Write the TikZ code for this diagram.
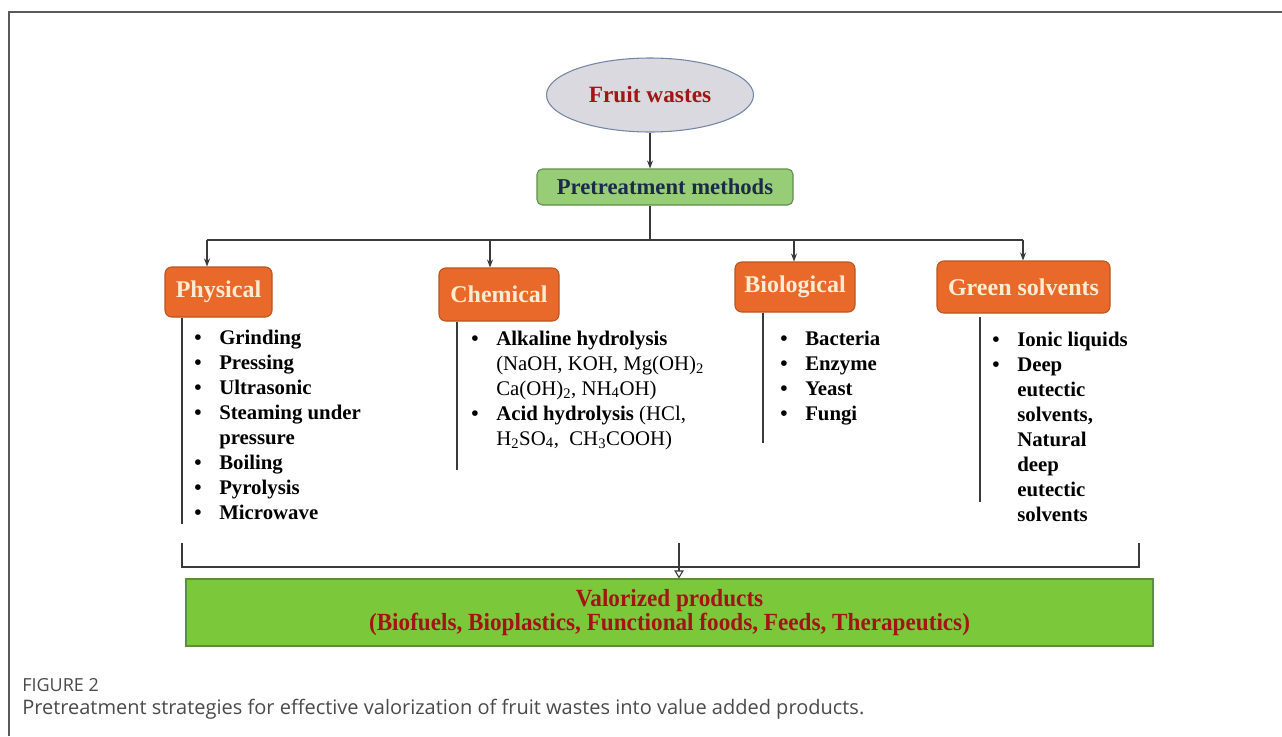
\documentclass[tikz,border=0pt]{standalone}
\usepackage{fontspec}
\setmainfont{Liberation Serif}
\newfontfamily\capfont{Open Sans}
\usetikzlibrary{arrows.meta,shapes.geometric}
\definecolor{lineC}{HTML}{3A3A3A}
\definecolor{frameC}{HTML}{5A5A5A}
\definecolor{ellFill}{HTML}{D9D9DF}
\definecolor{ellLine}{HTML}{7486A6}
\definecolor{darkred}{HTML}{A31414}
\definecolor{ptFill}{HTML}{98CD78}
\definecolor{ptLine}{HTML}{5F8F4B}
\definecolor{navy}{HTML}{1B2A48}
\definecolor{orFill}{HTML}{E8692A}
\definecolor{orLine}{HTML}{B8561E}
\definecolor{cream}{HTML}{FCEBD3}
\definecolor{vpFill}{HTML}{7BC93A}
\definecolor{vpLine}{HTML}{5C8E3E}
\definecolor{capC}{HTML}{4A4A4A}
\newcommand{\bul}{\makebox[18.75pt][l]{\textbullet}}
\newcommand{\cond}[1]{\scalebox{0.94}[1]{#1}}
\begin{document}
\begin{tikzpicture}[x=0.75pt,y=-0.75pt,
  conn/.style={draw=lineC,line width=0.8pt},
  arr/.style={conn,-{Stealth[length=6pt,width=4.5pt]}},
  catbox/.style={draw=orLine,fill=orFill,rounded corners=5pt,line width=0.8pt,
    text=cream,font=\bfseries\fontsize{18}{20}\selectfont,inner sep=0pt},
  listtxt/.style={inner sep=0pt,anchor=base west,font=\bfseries\fontsize{15.6}{18.75}\selectfont,text=black},
]
\useasboundingbox (0,0) rectangle (1282,736);
% frame
\draw[frameC,line width=1.5pt] (9,736) -- (9,12) -- (1282,12);

% top
\node[ellipse,draw=ellLine,fill=ellFill,line width=0.8pt,minimum width=155.25pt,minimum height=55.5pt,inner sep=0pt,
  text=darkred,font=\bfseries\fontsize{17.5}{20}\selectfont] (fw) at (650,95) {Fruit wastes};
\node[draw=ptLine,fill=ptFill,rounded corners=4pt,line width=0.8pt,minimum width=192pt,minimum height=27pt,inner sep=0pt,
  text=navy,font=\bfseries\fontsize{17}{20}\selectfont] (pm) at (665,187) {Pretreatment methods};
\draw[arr] (fw.south -| 650,0) -- (650,0 |- pm.north);

% categories
\node[catbox,minimum width=80.25pt,minimum height=37.5pt] (phys) at (218.5,292) {Physical};
\node[catbox,minimum width=90pt,minimum height=39.75pt] (chem) at (499,294.5) {Chemical};
\node[catbox,minimum width=90pt,minimum height=37.5pt] (bio) at (795,287) {Biological};
\node[catbox,minimum width=129.75pt,minimum height=39pt] (green) at (1023.5,287) {Green solvents};

\coordinate (b0) at (650,240);
\coordinate (b1) at (207,240);
\coordinate (b2) at (490,240);
\coordinate (b3) at (794,240);
\coordinate (b4) at (1023,240);
\draw[conn] (pm.south -| b0) -- (b0);
\draw[conn] (b1) -- (b4);
\draw[arr] (b1) -- (b1 |- phys.north);
\draw[arr] (b2) -- (b2 |- chem.north);
\draw[arr] (b3) -- (b3 |- bio.north);
\draw[arr] (b4) -- (b4 |- green.north);

% side lines
\draw[conn] (182,0 |- phys.south) -- (182,524);
\draw[conn] (457,0 |- chem.south) -- (457,470);
\draw[conn] (763,0 |- bio.south) -- (763,443);
\draw[conn] (980,317) -- (980,502);

% lists
\node[listtxt] (lphys) at (194,344) {\begin{tabular}[t]{@{}l@{}}
\bul Grinding\\ \bul Pressing\\ \bul Ultrasonic\\ \bul Steaming under\\ \hphantom{\bul}pressure\\
\bul Boiling\\ \bul Pyrolysis\\ \bul Microwave\end{tabular}};
\node[listtxt] (lchem) at (471,345) {\begin{tabular}[t]{@{}l@{}}
\bul Alkaline hydrolysis\\
\hphantom{\bul}\mdseries(NaOH, KOH, Mg(OH)\textsubscript{2}\\
\hphantom{\bul}\mdseries Ca(OH)\textsubscript{2}, NH\textsubscript{4}OH)\\
\bul Acid hydrolysis \mdseries(HCl,\\
\hphantom{\bul}\mdseries H\textsubscript{2}SO\textsubscript{4}, \ CH\textsubscript{3}COOH)\end{tabular}};
\node[listtxt] (lbio) at (780,345) {\begin{tabular}[t]{@{}l@{}}
\bul Bacteria\\ \bul Enzyme\\ \bul Yeast\\ \bul Fungi\end{tabular}};
\node[listtxt] (lgreen) at (992,346) {\begin{tabular}[t]{@{}l@{}}
\bul Ionic liquids\\ \bul Deep\\ \hphantom{\bul}eutectic\\ \hphantom{\bul}solvents,\\ \hphantom{\bul}Natural\\
\hphantom{\bul}deep\\ \hphantom{\bul}eutectic\\ \hphantom{\bul}solvents\end{tabular}};

% bottom
\node[draw=vpLine,fill=vpFill,line width=0.8pt,minimum width=725.25pt,minimum height=50.25pt,inner sep=0pt,
  text=darkred,align=center,font=\bfseries\fontsize{18.5}{18}\selectfont] (vp) at (669.5,612.5)
  {\cond{Valorized products}\\\cond{(Biofuels, Bioplastics, Functional foods, Feeds, Therapeutics)}};
\coordinate (c0) at (679,543);
\draw[conn] (182,543) -- (182,567) -- (1139,567) -- (1139,543);
\draw[conn,-{Triangle[open,length=6pt,width=7pt]}] (c0) -- (c0 |- vp.north);

% caption
\node[anchor=base west,inner sep=0pt,text=capC,font=\capfont\fontsize{13.5}{14}\selectfont] (fig) at (22,691) {FIGURE 2};
\node[anchor=base west,inner sep=0pt,text=capC,font=\capfont\fontsize{15}{16}\selectfont] (cap) at (22,714)
  {Pretreatment strategies for effective valorization of fruit wastes into value added products.};
\end{tikzpicture}
\end{document}
